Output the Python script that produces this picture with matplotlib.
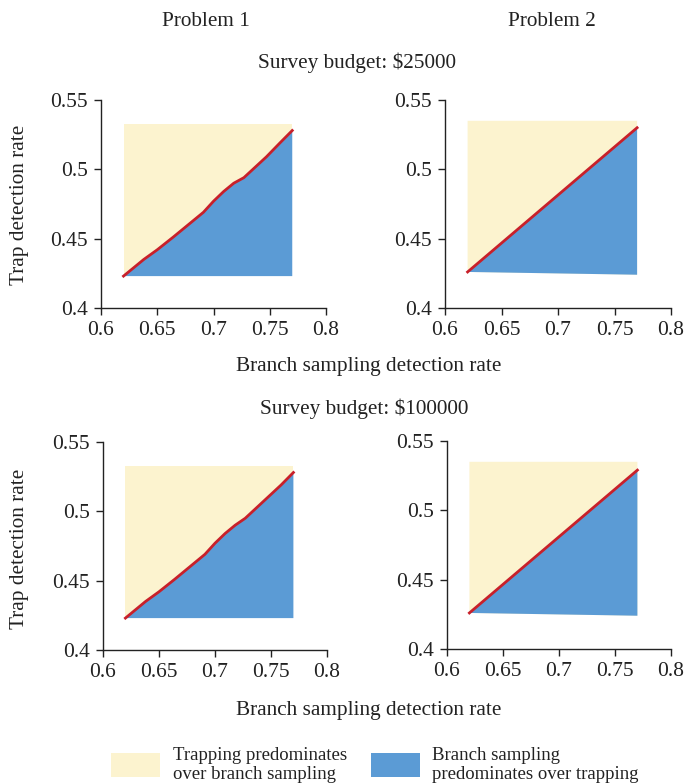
import matplotlib
matplotlib.use("Agg")
import matplotlib.pyplot as plt
from matplotlib.patches import Patch
import numpy as np

plt.rcParams['font.family'] = ['Liberation Serif', 'DejaVu Serif']

# Problem 1 boundary (branch sampling rate vs trap rate)
p1_x = [0.62, 0.638, 0.65, 0.664, 0.679, 0.691, 0.70, 0.709, 0.718, 0.727, 0.735, 0.747, 0.759, 0.77]
p1_y_25k = [0.423, 0.435, 0.442, 0.451, 0.461, 0.469, 0.477, 0.484, 0.490, 0.494, 0.500, 0.509, 0.519, 0.528]
p1_y_100k = [0.423, 0.435, 0.442, 0.451, 0.461, 0.469, 0.477, 0.484, 0.490, 0.495, 0.501, 0.510, 0.519, 0.528]
# Problem 2 boundary is a straight line
p2_x = [0.62, 0.77]
p2_y_25k = [0.426, 0.530]
p2_y_100k = [0.426, 0.529]

# region extents: x range, top of yellow, bottom of blue (left, right)
region_x = [0.62, 0.77]
top_25k = [0.533, 0.535]          # problem 1, problem 2
top_100k = [0.533, 0.535]
bottom_p1 = [0.423, 0.423]
bottom_p2 = [0.426, 0.424]

xticks = [0.6, 0.65, 0.7, 0.75, 0.8]
yticks = [0.4, 0.45, 0.5, 0.55]

yellow = '#fcf3cf'
blue = '#5b9bd5'
red = '#c8202a'
ink = '#222222'

fig = plt.figure(figsize=(6.87, 7.84), dpi=100)

axes_pos = [
    [101 / 687, 1 - 308 / 784, 225 / 687, 208 / 784],
    [445 / 687, 1 - 308 / 784, 226 / 687, 208 / 784],
    [103 / 687, 1 - 650 / 784, 224 / 687, 208 / 784],
    [447 / 687, 1 - 649 / 784, 224 / 687, 208 / 784],
]
panels = [
    (p1_x, p1_y_25k, top_25k[0], bottom_p1),
    (p2_x, p2_y_25k, top_25k[1], bottom_p2),
    (p1_x, p1_y_100k, top_100k[0], bottom_p1),
    (p2_x, p2_y_100k, top_100k[1], bottom_p2),
]

for pos, (lx, ly, top, bot) in zip(axes_pos, panels):
    ax = fig.add_axes(pos)
    # yellow background region
    ax.fill([region_x[0], region_x[1], region_x[1], region_x[0]],
            [bot[0], bot[1], top, top], color=yellow, lw=0)
    # blue region under the boundary
    ax.fill(list(lx) + [region_x[1], region_x[0]],
            list(ly) + [bot[1], bot[0]], color=blue, lw=0)
    ax.plot(lx, ly, color=red, lw=2)
    ax.set_xlim(0.6, 0.8)
    ax.set_ylim(0.4, 0.55)
    ax.set_xticks(xticks)
    ax.set_xticklabels(['0.6', '0.65', '0.7', '0.75', '0.8'])
    ax.set_yticks(yticks)
    ax.set_yticklabels(['0.4', '0.45', '0.5', '0.55'])
    for s in ['top', 'right']:
        ax.spines[s].set_visible(False)
    for s in ['left', 'bottom']:
        ax.spines[s].set_linewidth(1.0)
        ax.spines[s].set_color(ink)
    ax.tick_params(direction='out', length=5, width=1.0, labelsize=15.5, color=ink,
                   labelcolor=ink, pad=4.5)

fs = 15.3
fig.text(206 / 687, 1 - 22 / 784, 'Problem 1', ha='center', va='center', fontsize=fs, color=ink)
fig.text(552 / 687, 1 - 22 / 784, 'Problem 2', ha='center', va='center', fontsize=fs, color=ink)
fig.text(357 / 687, 1 - 63 / 784, 'Survey budget: $25000', ha='center', va='center', fontsize=fs, color=ink)
fig.text(364 / 687, 1 - 409 / 784, 'Survey budget: $100000', ha='center', va='center', fontsize=fs, color=ink)
fig.text(369 / 687, 1 - 367 / 784, 'Branch sampling detection rate', ha='center', va='center', fontsize=fs, color=ink)
fig.text(369 / 687, 1 - 711 / 784, 'Branch sampling detection rate', ha='center', va='center', fontsize=fs, color=ink)
fig.text(20 / 687, 1 - 205 / 784, 'Trap detection rate', ha='center', va='center', rotation=90, fontsize=fs, color=ink)
fig.text(20 / 687, 1 - 549 / 784, 'Trap detection rate', ha='center', va='center', rotation=90, fontsize=fs, color=ink)

handles = [Patch(facecolor=yellow, edgecolor='none'), Patch(facecolor=blue, edgecolor='none')]
labels = ['Trapping predominates\nover branch sampling', 'Branch sampling\npredominates over trapping']
fig.legend(handles, labels, loc='center', bbox_to_anchor=(375 / 687, 1 - 765 / 784), ncol=2,
           frameon=False, fontsize=13.5, handlelength=2.6, handleheight=1.6, handletextpad=0.67,
           columnspacing=1.28, labelcolor=ink)

fig.savefig('out.png', dpi=100)
